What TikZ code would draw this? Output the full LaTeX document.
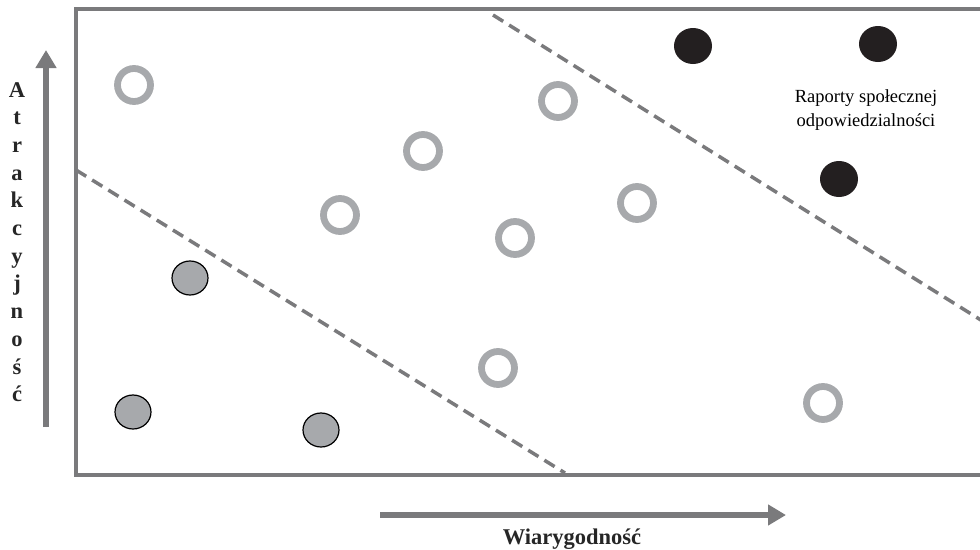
\documentclass[tikz,border=0pt]{standalone}
\usepackage{fontspec}
\setmainfont{Liberation Serif}
\usetikzlibrary{arrows.meta,shapes.geometric}
\definecolor{framegray}{HTML}{7A7A7C}
\definecolor{ringgray}{HTML}{A7A9AC}
\definecolor{dotgray}{HTML}{A7A9AC}
\definecolor{dotblack}{HTML}{231F20}
\begin{document}
\begin{tikzpicture}[x=1pt,y=-1pt,
  ring/.style={circle,draw=ringgray,line width=6.8pt,minimum size=33pt,inner sep=0pt},
  graydot/.style={ellipse,draw=black,line width=1.2pt,fill=dotgray,minimum width=36pt,minimum height=34pt,inner sep=0pt},
  blackdot/.style={ellipse,fill=dotblack,minimum width=38pt,minimum height=36pt,inner sep=0pt},
  boundary/.style={draw=framegray,line width=3.5pt},
  divider/.style={draw=framegray,line width=3.5pt,dash pattern=on 12pt off 7pt},
  axisarrow/.style={draw=framegray,line width=6.5pt,-{Triangle[length=18pt,width=20pt]},fill=framegray},
  axislabel/.style={font=\bfseries\fontsize{22.5}{26}\selectfont,text=black!85,inner sep=0pt},
]
\useasboundingbox (0,0) rectangle (980,549);
\clip (0,0) rectangle (980,549);

% plot frame (open on the right edge of the page)
\draw[boundary] (990,9) -- (76,9) -- (76,475) -- (990,475);

% dashed group boundaries
\coordinate (d1a) at (493,15);
\coordinate (d1b) at (984,322);
\coordinate (d2a) at (76,170);
\coordinate (d2b) at (565,473);
\draw[divider] (d1a) -- (d1b);
\draw[divider] (d2a) -- (d2b);

% open rings
\node[ring] (r1) at (134,85) {};
\node[ring] (r2) at (558,101) {};
\node[ring] (r3) at (423,151) {};
\node[ring] (r4) at (340,215) {};
\node[ring] (r5) at (637,203) {};
\node[ring] (r6) at (515,238) {};
\node[ring] (r7) at (498,368) {};
\node[ring] (r8) at (823,403) {};

% grey dots
\node[graydot] (g1) at (190,278) {};
\node[graydot] (g2) at (133,412) {};
\node[graydot] (g3) at (321,430) {};

% black dots
\node[blackdot] (b1) at (693,46) {};
\node[blackdot] (b2) at (878,44) {};
\node[blackdot] (b3) at (839,179) {};

\node[align=center,font=\fontsize{18.5}{24.5}\selectfont,inner sep=0pt] (csr) at (866,110)
  {Raporty społecznej\\odpowiedzialności};

% axes
\coordinate (ybot) at (46,427);
\coordinate (ytop) at (46,50);
\draw[axisarrow] (ybot) -- (ytop);
\coordinate (xleft) at (380,515);
\coordinate (xright) at (786,515);
\draw[axisarrow] (xleft) -- (xright);

\foreach \ch [count=\i] in {A,t,r,a,k,c,y,j,n,o,ś,ć}
  \node[axislabel,anchor=base] (ylab\i) at (17,{97+(\i-1)*27.7}) {\ch};

\node[axislabel,anchor=base] (xlab) at (572,544) {Wiarygodność};
\end{tikzpicture}
\end{document}
